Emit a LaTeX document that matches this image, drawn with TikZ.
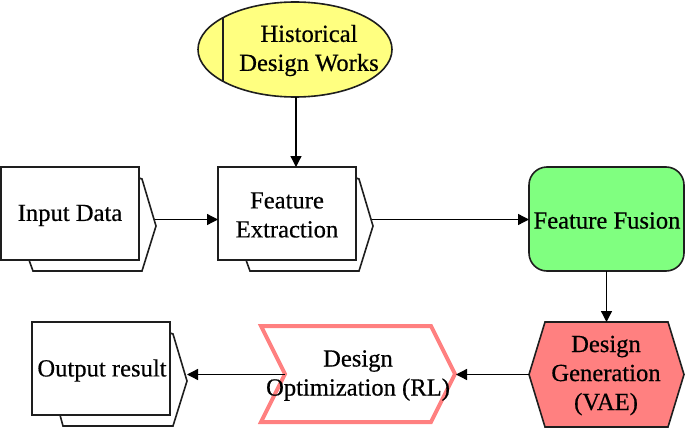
\documentclass[tikz,border=0pt]{standalone}
\usepackage{fontspec}
\setmainfont[FakeBold=0.5]{Liberation Serif}
\usetikzlibrary{arrows.meta,shapes.geometric}
\definecolor{yfill}{RGB}{255,255,128}
\definecolor{gfill}{RGB}{128,255,128}
\definecolor{rfill}{RGB}{255,128,128}
\definecolor{ink}{RGB}{30,30,30}
\tikzset{
  x=1pt,y=-1pt,
  every node/.style={inner sep=0pt,outer sep=0pt},
  label text/.style={font=\fontsize{24.6}{29}\selectfont,align=center,text=black},
  outline/.style={draw=ink,line width=1.6pt,line join=miter},
  front box/.style={outline,fill=white,minimum width=138pt,minimum height=93pt},
  flow/.style={draw=black,line width=1.3pt,-{Triangle[length=11pt,width=11pt]}},
  pic back/.style={outline,fill=white},
}
\begin{document}
\begin{tikzpicture}
\useasboundingbox (0,0) rectangle (685,428);
% Back shapes
\draw[pic back] (139,178) -- (142,179) -- (156,226) -- (142,271) -- (33,271) -- (29,260);
\draw[pic back] (356,178) -- (359,179) -- (373,226) -- (359,271) -- (250,271) -- (246,260);
\draw[pic back] (170,333) -- (173,334) -- (187,381) -- (173,426) -- (63,426) -- (60,415);
% Front boxes
\node[front box] (input) at (70,213.5) {};
\node[label text] (inputT) at (70,215.5) {Input Data};
\node[front box] (feat) at (287,213.5) {};
\node[label text] (featT) at (287,215) {Feature\\Extraction};
\node[front box] (out) at (101,368.5) {};
\node[label text] (outT) at (102,370.5) {Output result};
% Ellipse
\node[ellipse,outline,fill=yfill,minimum width=194pt,minimum height=95pt] (hist) at (295,49.5) {};
\draw[outline] (223,18) -- (223,81);
\node[label text] (histT) at (309,50.5) {Historical\\Design Works};
% Fusion
\node[rectangle,rounded corners=18pt,outline,fill=gfill,minimum width=155pt,minimum height=104pt] (fusion) at (606.5,219) {};
\node[label text] (fusionT) at (607,220.5) {Feature Fusion};
% Hexagon
\draw[outline,fill=rfill] (545,322) -- (668,322) -- (684,374.5) -- (668,427) -- (545,427) -- (529,374.5) -- cycle;
\coordinate (genW) at (529,374.5);
\coordinate (genN) at (606.5,322);
\node[label text] (genT) at (606,375.5) {Design\\Generation\\(VAE)};
% Chevron
\draw[draw=rfill,fill=white,line width=4pt,line join=miter] (261,326) -- (431,326) -- (455,374) -- (431,422) -- (261,422) -- (285,374) -- cycle;
\coordinate (optE) at (456,374.5);
\coordinate (optW) at (285,374.5);
\node[label text] (optT) at (358,375.5) {Design\\Optimization (RL)};
% Connector anchors
\coordinate (inputOut) at (155,219.5);
\coordinate (featOut) at (372,219.5);
\coordinate (outIn) at (187,374.5);
\coordinate (histOut) at (296,97);
\coordinate (featIn) at (296,167);
% Connectors
\draw[flow] (histOut) -- (featIn);
\draw[flow] (inputOut) -- (feat.west |- inputOut);
\draw[flow] (featOut) -- (fusion.west |- featOut);
\draw[flow] (fusion.south) -- (genN);
\draw[flow] (genW) -- (optE);
\draw[flow] (optW) -- (outIn);
\end{tikzpicture}
\end{document}
